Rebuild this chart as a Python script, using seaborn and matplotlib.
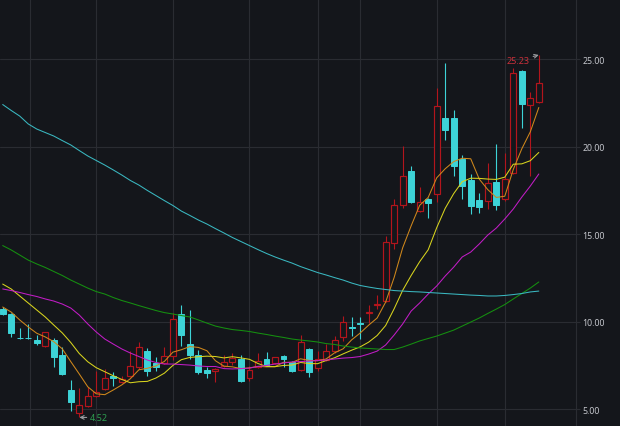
import matplotlib
matplotlib.use("Agg")
import matplotlib.pyplot as plt
import seaborn as sns
import pandas as pd
import numpy as np

# ---------------- data ----------------
opens = [10.74, 10.43, 9.08, 9.08, 8.96, 8.62, 8.96, 8.09, 6.10, 4.77,
         5.19, 5.73, 6.14, 6.90, 6.53, 6.90, 7.38, 8.33, 7.63, 7.63,
         8.01, 10.43, 8.71, 8.09, 7.25, 7.20, 7.46, 7.70, 7.86, 6.75,
         7.40, 7.86, 7.63, 8.05, 7.67, 7.25, 8.43, 7.34, 7.82, 8.33,
         9.10, 9.70, 9.90, 10.50, 10.93, 11.19, 14.47, 16.64, 18.62, 16.33,
         17.00, 17.29, 21.61, 21.61, 19.29, 18.10, 16.96, 16.90, 17.99, 17.00,
         18.49, 24.33, 22.37, 22.53]
highs = [10.82, 10.50, 9.63, 9.86, 9.23, 9.40, 9.05, 8.54, 6.67, 6.18,
         6.24, 7.19, 7.29, 7.10, 6.90, 8.30, 8.81, 8.50, 8.00, 8.54,
         10.49, 10.94, 10.67, 8.39, 7.38, 7.32, 8.09, 8.20, 8.09, 7.44,
         8.20, 8.24, 8.00, 8.10, 7.76, 9.23, 8.50, 8.30, 8.71, 9.20,
         10.30, 10.24, 10.24, 10.94, 11.51, 14.87, 17.00, 20.01, 18.87, 17.67,
         17.05, 23.33, 24.77, 22.10, 19.50, 18.43, 17.34, 19.06, 20.14, 19.63,
         24.47, 24.40, 23.10, 25.23]
lows = [10.35, 9.11, 9.00, 9.00, 8.66, 8.55, 7.40, 6.95, 4.90, 4.52,
        5.10, 5.70, 6.10, 6.30, 6.50, 6.85, 7.30, 6.90, 7.20, 7.55,
        7.80, 8.62, 7.86, 7.00, 6.75, 6.55, 7.40, 7.50, 6.56, 6.60,
        7.35, 7.44, 7.60, 7.40, 7.10, 7.20, 6.81, 7.20, 7.75, 8.20,
        8.90, 9.19, 9.00, 9.91, 10.70, 11.10, 14.14, 16.47, 16.77, 16.27,
        15.90, 16.85, 20.39, 18.30, 17.00, 16.14, 16.20, 16.43, 16.39, 16.90,
        18.43, 21.04, 18.30, 22.47]
closes = [10.43, 9.34, 9.06, 9.06, 8.77, 9.38, 7.99, 7.00, 5.42, 5.23,
          5.73, 5.96, 6.75, 6.76, 6.71, 7.47, 8.53, 7.19, 7.38, 8.01,
          10.14, 9.23, 8.09, 7.13, 7.04, 7.30, 7.69, 7.90, 6.62, 7.25,
          7.76, 7.54, 7.95, 7.86, 7.19, 8.81, 7.10, 7.86, 8.33, 8.94,
          9.95, 9.65, 9.85, 10.55, 10.98, 14.53, 16.67, 18.33, 16.85, 16.81,
          16.77, 22.30, 20.94, 18.90, 17.76, 16.58, 16.53, 17.91, 16.66, 18.14,
          24.20, 22.43, 22.75, 23.63]

ma5 = [10.83, 10.54, 10.09, 9.69, 9.33, 9.12, 8.85, 8.44, 7.71, 7.00,
       6.27, 5.87, 5.82, 6.09, 6.38, 6.73, 7.24, 7.33, 7.46, 7.72,
       8.25, 8.39, 8.57, 8.52, 8.33, 7.76, 7.45, 7.41, 7.31, 7.35,
       7.44, 7.41, 7.42, 7.67, 7.66, 7.87, 7.78, 7.76, 7.86, 8.21,
       8.44, 8.95, 9.34, 9.79, 10.20, 11.11, 12.52, 14.21, 15.47, 16.64,
       17.09, 18.21, 18.73, 19.14, 19.33, 19.30, 18.14, 17.54, 17.09, 17.16,
       18.69, 19.87, 20.84, 22.23]
ma10 = [12.14, 11.86, 11.46, 11.06, 10.66, 10.26, 9.80, 9.35, 8.80, 8.17,
        7.70, 7.36, 7.13, 6.90, 6.69, 6.50, 6.56, 6.58, 6.77, 7.05,
        7.49, 7.82, 7.95, 7.99, 8.02, 8.00, 7.92, 7.99, 7.92, 7.84,
        7.60, 7.43, 7.42, 7.49, 7.51, 7.66, 7.60, 7.59, 7.77, 7.93,
        8.15, 8.36, 8.55, 8.82, 9.20, 9.77, 10.73, 11.78, 12.63, 13.42,
        14.10, 15.36, 16.47, 17.31, 17.99, 18.19, 18.18, 18.14, 18.12, 18.25,
        18.99, 19.01, 19.19, 19.66]
ma20 = [11.86, 11.77, 11.66, 11.54, 11.43, 11.29, 11.17, 11.00, 10.77, 10.37,
        9.86, 9.40, 9.00, 8.71, 8.43, 8.20, 8.00, 7.80, 7.66, 7.57,
        7.57, 7.54, 7.51, 7.46, 7.43, 7.43, 7.31, 7.29, 7.31, 7.34,
        7.43, 7.49, 7.57, 7.63, 7.69, 7.71, 7.74, 7.77, 7.80, 7.86,
        7.91, 7.94, 8.00, 8.14, 8.31, 8.66, 9.23, 9.86, 10.60, 11.06,
        11.57, 12.03, 12.60, 13.11, 13.69, 13.97, 14.43, 14.94, 15.34, 15.86,
        16.43, 17.11, 17.74, 18.43]
ma60 = [14.34, 14.09, 13.80, 13.51, 13.29, 13.09, 12.86, 12.63, 12.37, 12.14,
        11.91, 11.71, 11.57, 11.37, 11.20, 11.06, 10.91, 10.77, 10.63, 10.51,
        10.43, 10.34, 10.26, 10.09, 9.91, 9.74, 9.63, 9.54, 9.49, 9.43,
        9.34, 9.26, 9.17, 9.09, 9.00, 8.94, 8.89, 8.83, 8.74, 8.69,
        8.60, 8.54, 8.49, 8.46, 8.43, 8.40, 8.40, 8.54, 8.71, 8.89,
        9.03, 9.17, 9.34, 9.51, 9.74, 9.97, 10.20, 10.46, 10.71, 10.97,
        11.29, 11.60, 11.91, 12.26]
ma120 = [22.40, 22.06, 21.74, 21.29, 21.00, 20.80, 20.60, 20.34, 20.09, 19.77,
         19.46, 19.20, 18.94, 18.66, 18.37, 18.06, 17.80, 17.49, 17.20, 16.91,
         16.63, 16.31, 16.06, 15.80, 15.57, 15.31, 15.06, 14.80, 14.57, 14.34,
         14.11, 13.89, 13.69, 13.51, 13.34, 13.14, 12.97, 12.80, 12.66, 12.51,
         12.37, 12.20, 12.06, 11.97, 11.89, 11.83, 11.77, 11.74, 11.71, 11.69,
         11.66, 11.63, 11.60, 11.57, 11.54, 11.51, 11.49, 11.46, 11.46, 11.49,
         11.54, 11.60, 11.69, 11.74]

month_starts = [3.2, 11, 20, 29, 37, 42, 51, 59]
y_ticks = [5, 10, 15, 20, 25]
max_label = "25.23"
min_label = "4.52"

# ---------------- style ----------------
BG = "#14161b"
GRID = "#2a2c32"
UP = "#b3151c"
DOWN = "#3dd3d7"
ma_colors = {"MA5": "#d0881c", "MA10": "#d8d41e", "MA20": "#c21cc6",
             "MA60": "#149010", "MA120": "#3ab8c1"}

sns.set_theme(style="dark")
plt.rcParams["font.family"] = ["Noto Sans", "DejaVu Sans"]

fig = plt.figure(figsize=(6.2, 4.27), dpi=100, facecolor=BG)
ax = fig.add_axes([0, 0, 576 / 620, 1])
ax.set_facecolor(BG)

n = len(closes)
x = np.arange(n)
o = np.array(opens); c = np.array(closes); h = np.array(highs); l = np.array(lows)
up = c >= o
body_lo = np.minimum(o, c)
body_hi = np.maximum(o, c)

# wicks (not through hollow bodies)
ax.vlines(x[up], body_hi[up], h[up], color=UP, lw=0.8, zorder=2)
ax.vlines(x[up], l[up], body_lo[up], color=UP, lw=0.8, zorder=2)
ax.vlines(x[~up], l[~up], h[~up], color=DOWN, lw=0.8, zorder=2)

width = 0.7
ax.bar(x[up], (body_hi - body_lo)[up], bottom=body_lo[up], width=width,
       facecolor=BG, edgecolor=UP, linewidth=0.85, zorder=3)
ax.bar(x[~up], np.maximum((body_hi - body_lo)[~up], 0.001), bottom=body_lo[~up],
       width=width, facecolor=DOWN, edgecolor=DOWN, linewidth=0.7, zorder=3)

df = pd.DataFrame({"idx": x, "MA5": ma5, "MA10": ma10, "MA20": ma20,
                   "MA60": ma60, "MA120": ma120})
long = df.melt(id_vars="idx", var_name="ma", value_name="val")
sns.lineplot(data=long, x="idx", y="val", hue="ma", palette=ma_colors,
             linewidth=0.75, legend=False, ax=ax, zorder=4)

# axes
ax.set_xlim(-0.317, 67.37)
ax.set_ylim(4.03, 28.43)
ax.set_xticks(month_starts)
ax.set_xticklabels([])
ax.set_yticks(y_ticks)
ax.set_yticklabels([f"{v:.2f}" for v in y_ticks])
ax.yaxis.tick_right()
ax.tick_params(axis="y", colors=GRID, labelcolor="#c4c6cc", labelsize=6.3,
               length=3, width=0.8, pad=1.5, right=True, left=False)
ax.tick_params(axis="x", length=0, bottom=False)
ax.set_xlabel("")
ax.set_ylabel("")
ax.grid(True, color=GRID, linewidth=0.8)
ax.set_axisbelow(True)
for s in ["top", "left", "bottom"]:
    ax.spines[s].set_visible(False)
ax.spines["right"].set_color(GRID)
ax.spines["right"].set_linewidth(0.8)

# max / min annotations
imax = int(np.argmax(h))
imin = int(np.argmin(l))
ax.annotate(max_label, xy=(imax, h[imax]), xytext=(imax - 1.05, h[imax] - 0.3),
            ha="right", va="center", color="#c9303a", fontsize=6.5,
            arrowprops=dict(arrowstyle="->", color="#9a9ca0", lw=0.8,
                            shrinkA=0, shrinkB=0), zorder=6)
ax.annotate(min_label, xy=(imin, l[imin]), xytext=(imin + 1.25, l[imin]),
            ha="left", va="center", color="#2e9e50", fontsize=6.5,
            arrowprops=dict(arrowstyle="->", color="#9a9ca0", lw=0.8,
                            shrinkA=0, shrinkB=0), zorder=6)

fig.savefig("out.png", dpi=100, facecolor=BG)
